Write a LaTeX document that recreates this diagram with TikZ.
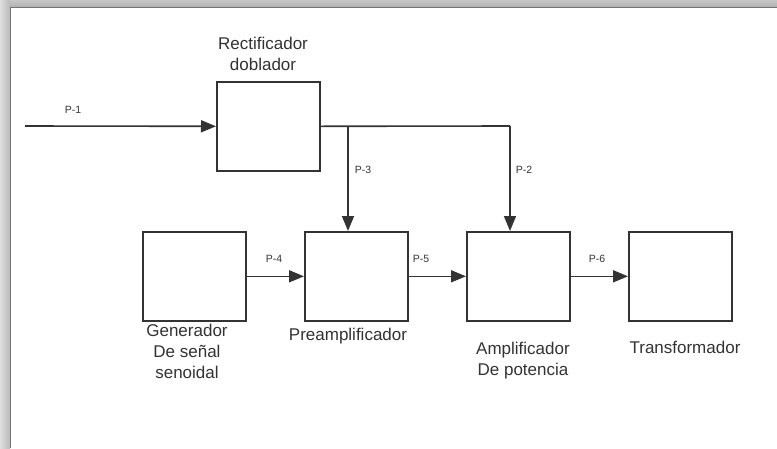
\documentclass[tikz,border=0pt]{standalone}
\usepackage{fontspec}
\setmainfont{Liberation Sans}
\usetikzlibrary{arrows.meta}
\definecolor{ink}{HTML}{333333}
\definecolor{txt}{HTML}{333333}
\begin{document}
\begin{tikzpicture}[x=1pt,y=-1pt,
  block/.style={draw=ink,line width=1.6pt,fill=white,minimum width=103pt,minimum height=89pt,inner sep=0pt,anchor=north west},
  wire/.style={draw=ink,line width=1.6pt},
  flow/.style={wire,-{Triangle[length=15pt,width=12pt]}},
  tag/.style={text=txt,font=\fontsize{10.5}{12}\selectfont,inner sep=0pt},
  caption/.style={text=txt,font=\fontsize{17}{21}\selectfont,align=center,inner sep=0pt}]
  \useasboundingbox (0,0) rectangle (777,448);
  % sheet with shaded top and left edges
  \fill[white] (0,0) rectangle (777,448);
  \shade[top color=gray!45,bottom color=gray!60] (0,0) rectangle (777,7);
  \shade[left color=gray!25,right color=gray!55] (0,0) rectangle (10,448);
  \draw[gray!90!black,line width=1.4pt] (10.5,448) -- (10.5,7.3) -- (777,7.3);

  % blocks
  \node[block] (rect) at (216,81) {};
  \node[block] (gen)  at (142,231) {};
  \node[block] (pre)  at (304,231) {};
  \node[block] (amp)  at (466,231) {};
  \node[block] (tra)  at (628,231) {};

  % captions
  \node[caption] (crect) at (263,54) {Rectificador\\doblador};
  \node[caption] (cgen)  at (187,351) {Generador\\De señal\\senoidal};
  \node[caption] (cpre)  at (348,336) {Preamplificador};
  \node[caption] (camp)  at (523,361) {Amplificador\\De potencia};
  \node[caption] (ctra)  at (685,347) {Transformador};

  % connectors
  \coordinate (in) at (25,126);
  \coordinate (j3) at (348,126);
  \coordinate (j2) at (510,126);
  \draw[flow] (in) -- (rect.west);
  \draw[wire] (rect.east) -- (j2);
  \draw[flow] (j3) -- (j3 |- pre.north);
  \draw[flow] (j2) -- (j2 |- amp.north);
  \draw[flow] (gen.east) -- (pre.west);
  \draw[flow] (pre.east) -- (amp.west);
  \draw[flow] (amp.east) -- (tra.west);

  % signal tags
  \node[tag] (p1) at (73,110) {P-1};
  \node[tag] (p3) at (363,170) {P-3};
  \node[tag] (p2) at (524,170) {P-2};
  \node[tag] (p4) at (274,259) {P-4};
  \node[tag] (p5) at (421,259) {P-5};
  \node[tag] (p6) at (597,259) {P-6};
\end{tikzpicture}
\end{document}
